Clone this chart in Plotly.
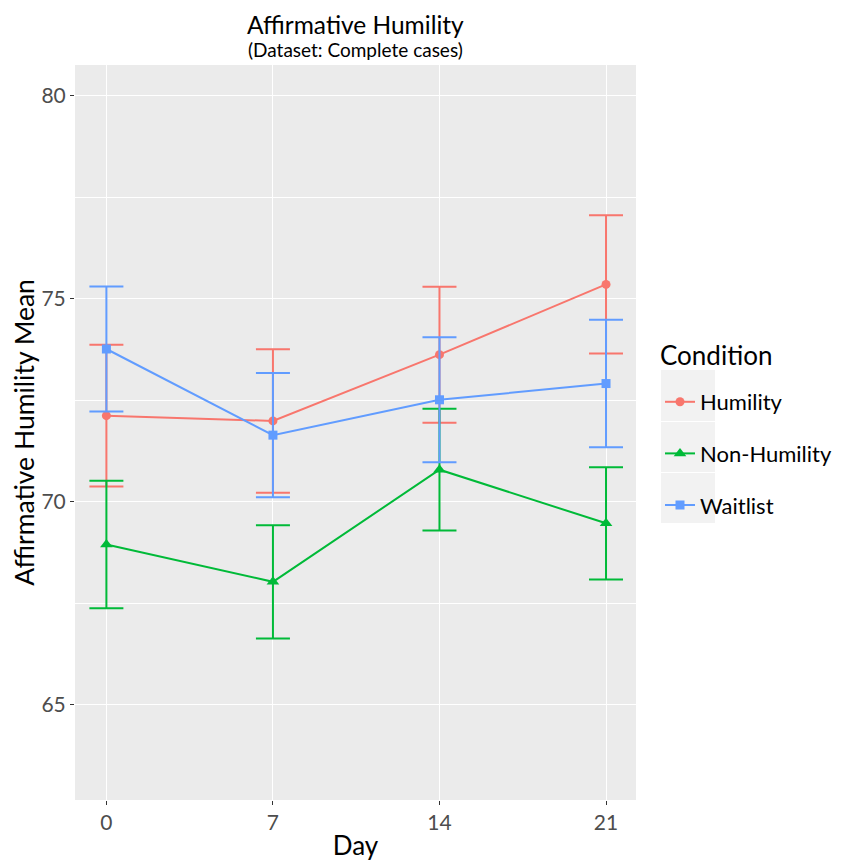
import plotly.graph_objects as go

days = [0, 7, 14, 21]
conditions = ["Humility", "Non-Humility", "Waitlist"]
means = {
    "Humility": [72.12, 71.99, 73.62, 75.35],
    "Non-Humility": [68.95, 68.03, 70.79, 69.47],
    "Waitlist": [73.76, 71.64, 72.51, 72.91],
}
errors = {
    "Humility": [1.745, 1.765, 1.675, 1.70],
    "Non-Humility": [1.57, 1.395, 1.50, 1.38],
    "Waitlist": [1.54, 1.53, 1.54, 1.57],
}
y_ticks = [65, 70, 75, 80]
y_minor = [62.5, 67.5, 72.5, 77.5]

colors = {"Humility": "#F8766D", "Non-Humility": "#00BA38", "Waitlist": "#619CFF"}
symbols = {"Humility": "circle", "Non-Humility": "triangle-up", "Waitlist": "square"}
msizes = {"Humility": 9, "Non-Humility": 11, "Waitlist": 9}

# page pixel geometry (browser body has an 8px margin)
OFF = 8
W, H = 852, 861
L, R, T, B = 75, 636, 65, 800
FW, FH = W - OFF, H - OFF

fig = go.Figure()
for c in conditions:
    fig.add_trace(go.Scatter(
        x=days, y=means[c], name=c, legendgroup=c,
        mode="lines+markers",
        line=dict(color=colors[c], width=2),
        marker=dict(color=colors[c], symbol=symbols[c], size=msizes[c]),
        error_y=dict(type="data", array=errors[c], visible=True,
                     color=colors[c], thickness=2, width=17),
    ))

def px_x(p):
    return (p - L) / (R - L)

def px_y(p):
    return (B - p) / (B - T)

shapes = []
for top, bot in [(370, 421), (422, 472), (473, 523)]:
    shapes.append(dict(type="rect", xref="paper", yref="paper",
                       x0=px_x(661), x1=px_x(715), y0=px_y(bot), y1=px_y(top),
                       fillcolor="#F2F2F2", line=dict(width=0), layer="below"))

annotations = [
    dict(text="Affirmative Humility", xref="paper", yref="paper",
         x=px_x(355), y=px_y(OFF), xanchor="center", yanchor="top",
         showarrow=False, font=dict(size=24.5, color="black")),
    dict(text="(Dataset: Complete cases)", xref="paper", yref="paper",
         x=px_x(355), y=px_y(T - 2), xanchor="center", yanchor="bottom",
         showarrow=False, font=dict(size=19, color="black")),
    dict(text="Condition", xref="paper", yref="paper",
         x=px_x(658), y=px_y(355), xanchor="left", yanchor="middle",
         showarrow=False, font=dict(size=26, color="black")),
]

fig.update_layout(
    width=FW, height=FH,
    margin=dict(l=L - OFF, r=W - R, t=T - OFF, b=H - B, autoexpand=False),
    paper_bgcolor="white", plot_bgcolor="#EBEBEB",
    font=dict(family="Lato, sans-serif", color="black"),
    xaxis=dict(
        range=[-1.32, 22.26], tickvals=days, ticktext=[str(d) for d in days],
        showgrid=True, gridcolor="white", gridwidth=1.3, zeroline=False,
        ticks="outside", ticklen=4, tickcolor="#333333", tickwidth=1,
        tickfont=dict(size=21, color="#4D4D4D"),
        title=dict(text="Day", font=dict(size=26, color="black"), standoff=4),
        showline=False, automargin=False,
    ),
    yaxis=dict(
        range=[62.66, 80.75], tickvals=y_ticks,
        showgrid=True, gridcolor="white", gridwidth=1.3, zeroline=False,
        ticks="outside", ticklen=4, tickcolor="#333333", tickwidth=1,
        tickfont=dict(size=21, color="#4D4D4D"),
        title=dict(text="Affirmative Humility Mean", font=dict(size=26.5, color="black"), standoff=8),
        minor=dict(tickvals=y_minor, showgrid=True, gridcolor="white", gridwidth=0.6, ticks=""),
        showline=False, automargin=False,
    ),
    legend=dict(
        font=dict(size=22, color="black"),
        xref="container", yref="container",
        x=(660 - OFF) / FW, y=1 - (381 - OFF) / FH, xanchor="left", yanchor="top",
        bgcolor="rgba(0,0,0,0)", tracegroupgap=20,
        itemwidth=30,
    ),
    shapes=shapes,
    annotations=annotations,
    showlegend=True,
)

fig.write_html("out.html")
